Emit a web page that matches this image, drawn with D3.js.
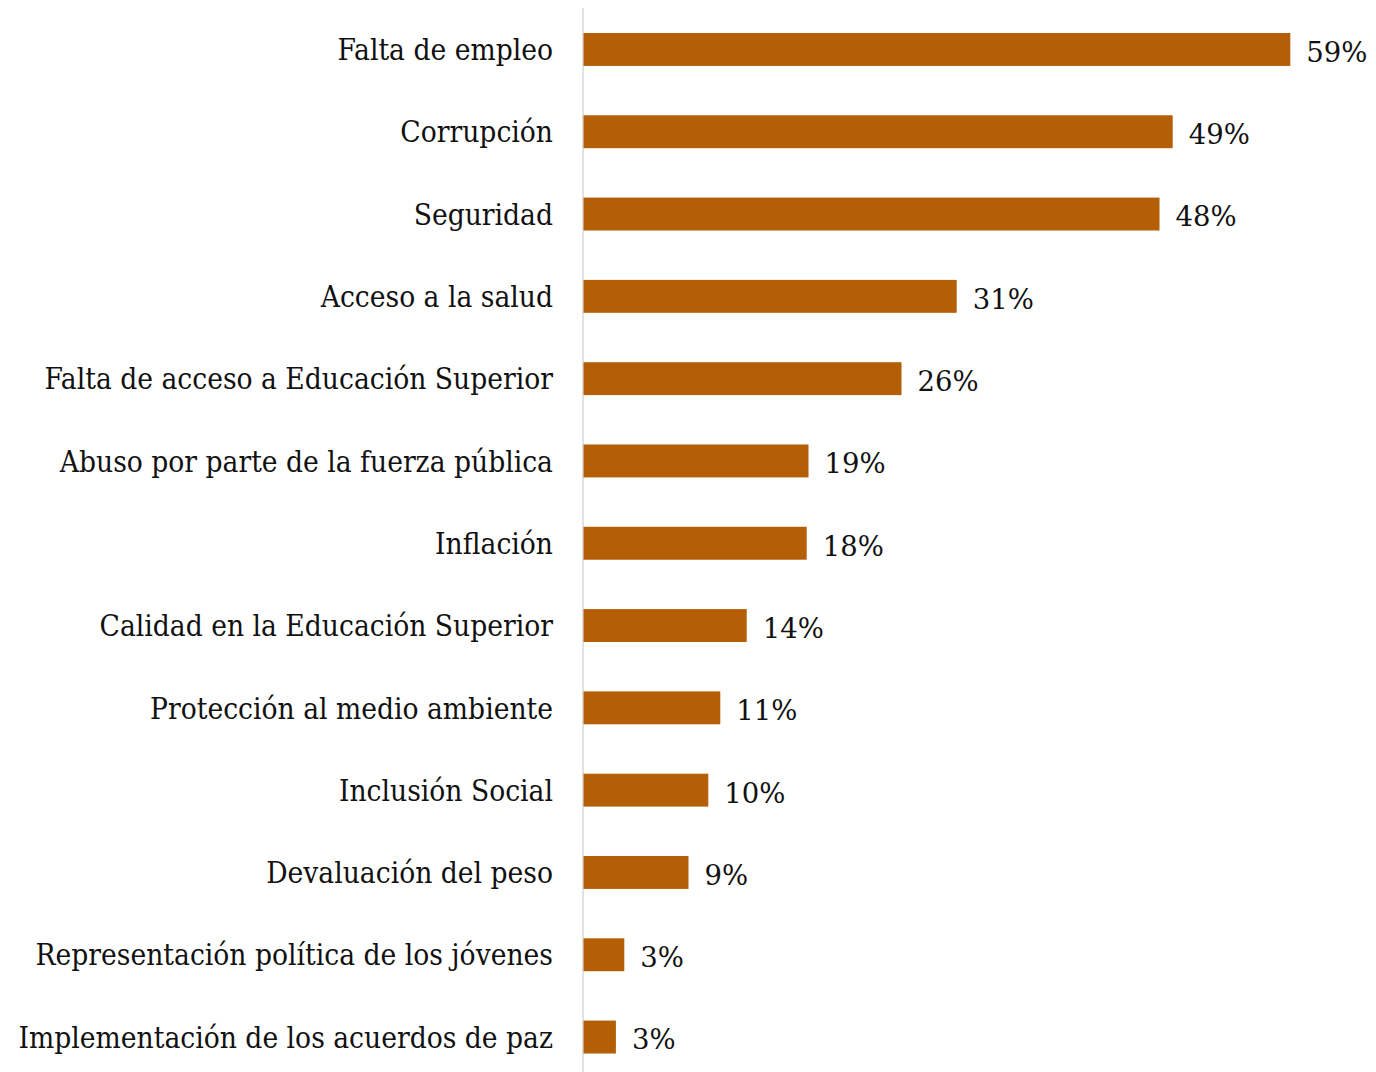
<!DOCTYPE html>
<html>
<head>
<meta charset="UTF-8">
<title>Problemas principales</title>
<script src="https://d3js.org/d3.v7.min.js"></script>
<style>
  body { margin: 0; background: #fff; }
  .cat { font-family: "DejaVu Serif", serif; font-stretch: condensed; fill: #111; }
  .val { font-family: "DejaVu Serif", serif; fill: #111; }
</style>
</head>
<body>
<script>
var categories = [
  "Falta de empleo", "Corrupción", "Seguridad", "Acceso a la salud",
  "Falta de acceso a Educación Superior", "Abuso por parte de la fuerza pública",
  "Inflación", "Calidad en la Educación Superior", "Protección al medio ambiente",
  "Inclusión Social", "Devaluación del peso", "Representación política de los jóvenes",
  "Implementación de los acuerdos de paz"
];
var values = [58.9, 49.1, 48.0, 31.1, 26.5, 18.75, 18.6, 13.6, 11.4, 10.4, 8.75, 3.4, 2.7];
var valueLabels = ["59%", "49%", "48%", "31%", "26%", "19%", "18%", "14%", "11%", "10%", "9%", "3%", "3%"];

var width = 1376, height = 1072;

var svg = d3.select("body").append("svg")
    .attr("width", width)
    .attr("height", height);

var x = d3.scaleLinear().domain([0, 66]).range([583.5, 1375.5]);
var y = d3.scaleBand().domain(categories).range([8.3, 1078.2])
    .paddingInner(0.6).paddingOuter(0.3);

// axis line
svg.append("line")
    .attr("x1", 583).attr("x2", 583)
    .attr("y1", 8).attr("y2", height)
    .attr("stroke", "#d9d9d9").attr("stroke-width", 1.5);

svg.selectAll(".bar")
    .data(values)
    .enter().append("rect")
    .attr("class", "bar")
    .attr("x", x(0))
    .attr("y", function (d, i) { return y(categories[i]); })
    .attr("width", function (d) { return x(d) - x(0); })
    .attr("height", y.bandwidth())
    .attr("fill", "#b45f06");

svg.selectAll(".cat")
    .data(categories)
    .enter().append("text")
    .attr("class", "cat")
    .attr("x", 553)
    .attr("y", function (d) { return y(d) + y.bandwidth() / 2; })
    .attr("dy", "0.36em")
    .attr("text-anchor", "end")
    .style("font-size", "29.6px")
    .text(function (d) { return d; });

svg.selectAll(".val")
    .data(values)
    .enter().append("text")
    .attr("class", "val")
    .attr("x", function (d) { return x(d) + 16; })
    .attr("y", function (d, i) { return y(categories[i]) + y.bandwidth() / 2; })
    .attr("dy", "0.45em")
    .style("font-size", "27.5px")
    .text(function (d, i) { return valueLabels[i]; });
</script>
</body>
</html>
